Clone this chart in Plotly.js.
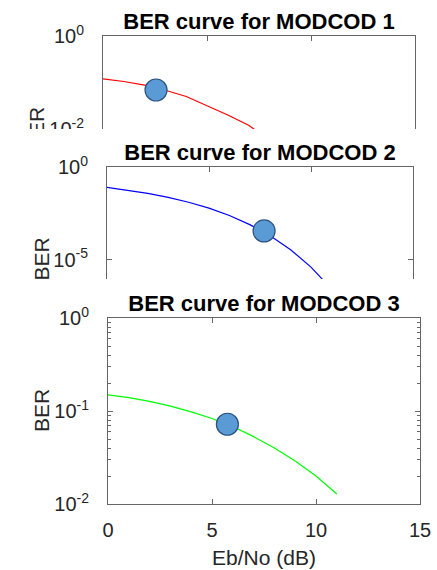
<!DOCTYPE html>
<html><head><meta charset="utf-8">
<script src="https://cdn.plot.ly/plotly-3.0.1.min.js"></script>
<style>
html,body{margin:0;padding:0;background:#fff;width:437px;height:570px;overflow:hidden}
.p{position:absolute;left:0;width:437px;background:#fff}
</style></head><body>
<div id="c1" class="p" style="top:0;height:260px"></div>
<div id="c2" class="p" style="top:129px;height:260px"></div>
<div id="c3" class="p" style="top:279px;height:291px"></div>
<script>
// ---- data ----
const titles = ['BER curve for MODCOD 1', 'BER curve for MODCOD 2', 'BER curve for MODCOD 3'];
const xTitle = 'Eb/No (dB)';
const yTitle = 'BER';

const ebno1 = [0, 1, 2, 3, 4, 5, 6, 7, 8, 9, 10, 11];
const ber1  = [0.12, 0.105, 0.088, 0.068, 0.050, 0.032, 0.020, 0.012, 0.0058, 0.0024, 0.0008, 0.0002];
const op1x = [2.55], op1y = [0.069];

const ebno2 = [0, 1, 2, 3, 4, 5, 6, 7, 8, 9, 10, 11, 12];
const ber2  = [0.079, 0.056, 0.0375, 0.023, 0.0125, 0.006, 0.0024, 0.00077, 0.00019, 3.4e-5, 3.9e-6, 2.6e-7, 9e-9];
const op2x = [7.7], op2y = [3.5e-4];

const ebno3 = [0, 1, 2, 3, 4, 5, 6, 7, 8, 9, 10, 11];
const ber3  = [0.149, 0.139, 0.127, 0.113, 0.098, 0.083, 0.068, 0.053, 0.040, 0.029, 0.020, 0.0128];
const op3x = [5.74], op3y = [0.072];

const xTickVals = [0, 5, 10, 15];
const xTickText = ['0', '5', '10', '15'];
const yTickVals1 = [1e-4, 1e-2, 1];
const yTickText1 = ['10<sup>-4</sup>', '10<sup>-2</sup>', '10<sup>0</sup>'];
const yTickVals2 = [1e-10, 1e-5, 1];
const yTickText2 = ['10<sup>-10</sup>', '10<sup>-5</sup>', '10<sup>0</sup>'];
const yTickVals3 = [1e-2, 1e-1, 1];
const yTickText3 = ['10<sup>-2</sup>', '10<sup>-1</sup>', '10<sup>0</sup>'];
const yMinorVals3 = [0.02, 0.03, 0.04, 0.05, 0.06, 0.07, 0.08, 0.09, 0.2, 0.3, 0.4, 0.5, 0.6, 0.7, 0.8, 0.9];

// ---- styling ----
const FONT = 'Liberation Sans, Arial, Helvetica, sans-serif';
const AX = '#666666';
const TXT = '#262626';

function xaxis(showLabels) {
  return {
    range: [0, 15], tickmode: 'array', tickvals: xTickVals, ticktext: xTickText,
    showticklabels: showLabels,
    showgrid: false, zeroline: false, showline: true, mirror: 'ticks',
    linecolor: AX, linewidth: 1, ticks: 'inside', ticklen: 5, tickcolor: AX,
    tickfont: {family: FONT, size: 20, color: TXT}, ticklabelstandoff: 8,
    title: showLabels ? {text: xTitle, font: {family: FONT, size: 21, color: TXT}, standoff: 10} : {text: ''}
  };
}
function yaxis(range, tv, tt) {
  return {
    type: 'log', range: range, tickmode: 'array', tickvals: tv, ticktext: tt,
    showgrid: false, zeroline: false, showline: true, mirror: 'ticks',
    linecolor: AX, linewidth: 1, ticks: 'inside', ticklen: 5, tickcolor: AX,
    tickfont: {family: FONT, size: 20, color: TXT}, ticklabelstandoff: 14
  };
}
function minorAxis(range, tv) {
  return {
    type: 'log', range: range, overlaying: 'y', side: 'left', tickmode: 'array', tickvals: tv,
    showticklabels: false, showgrid: false, zeroline: false, showline: true, mirror: 'ticks',
    linecolor: AX, linewidth: 1, ticks: 'inside', ticklen: 3, tickcolor: AX
  };
}
function layout(title, m, xa, ya, yShift) {
  return {
    width: 437, height: m.h, margin: {l: m.l, r: m.r, t: m.t, b: m.b, pad: 0},
    paper_bgcolor: '#ffffff', plot_bgcolor: '#ffffff', showlegend: false,
    font: {family: FONT, color: TXT},
    title: {text: title, x: 0.5, xref: 'paper', xanchor: 'center', y: 1, yref: 'paper', yanchor: 'bottom',
            pad: {b: 7}, font: {family: FONT, size: 22, color: '#000', weight: 'bold'}},
    xaxis: xa, yaxis: ya,
    annotations: [{text: yTitle, xref: 'paper', yref: 'paper', x: 0, y: 0.5, xanchor: 'center', yanchor: 'middle',
                   xshift: yShift, textangle: -90, showarrow: false,
                   font: {family: FONT, size: 21, color: TXT}}]
  };
}
function traces(x, y, color, ox, oy) {
  return [
    {x: x, y: y, type: 'scatter', mode: 'lines', line: {color: color, width: 1.2}, hoverinfo: 'skip'},
    {x: ox, y: oy, type: 'scatter', mode: 'markers',
     marker: {size: 22, color: 'rgb(91,155,213)', line: {color: 'rgb(44,82,130)', width: 1.2}}}
  ];
}
const cfg = {displayModeBar: false, staticPlot: true};

Plotly.newPlot('c1', traces(ebno1, ber1, '#ff0000', op1x, op1y),
  layout(titles[0], {h: 260, l: 103, r: 22, t: 36, b: 38}, xaxis(false), yaxis([-4, 0], yTickVals1, yTickText1), -67), cfg);
Plotly.newPlot('c2', traces(ebno2, ber2, '#0000ff', op2x, op2y),
  layout(titles[1], {h: 260, l: 107, r: 24, t: 38, b: 37}, xaxis(false), yaxis([-10, 0], yTickVals2, yTickText2), -66), cfg);

const tr3 = traces(ebno3, ber3, '#00ff00', op3x, op3y);
tr3.unshift({x: [], y: [], type: 'scatter', mode: 'lines', yaxis: 'y2', hoverinfo: 'skip'});
const lay3 = layout(titles[2], {h: 291, l: 108, r: 17, t: 39, b: 66}, xaxis(true), yaxis([-2, 0], yTickVals3, yTickText3), -67);
lay3.yaxis2 = minorAxis([-2, 0], yMinorVals3);
Plotly.newPlot('c3', tr3, lay3, cfg);
</script>
</body></html>
